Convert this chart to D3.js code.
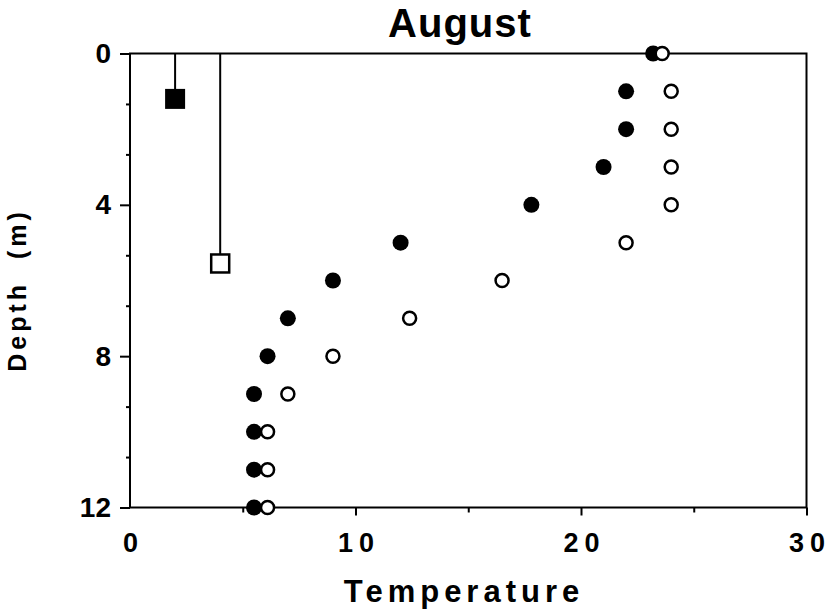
<!DOCTYPE html>
<html>
<head>
<meta charset="utf-8">
<script src="https://cdn.jsdelivr.net/npm/d3@7"></script>
<style>
  body { margin: 0; background: #fff; }
  text { font-family: Arial, "Liberation Sans", Helvetica, sans-serif; font-weight: bold; fill: #000; }
</style>
</head>
<body>
<div id="chart"></div>
<script>
const depths = [0, 1, 2, 3, 4, 5, 6, 7, 8, 9, 10, 11, 12]
const filledTemps = [23.2, 22, 22, 21, 17.8, 12, 9, 7, 6.1, 5.5, 5.5, 5.5, 5.5]
const openTemps = [23.6, 24, 24, 24, 24, 22, 16.5, 12.4, 9, 7, 6.1, 6.1, 6.1]
const squareTemps = [2, 4]
const squareDepths = [1.2, 5.55]
const squareFilled = [true, false]
const xTicks = [0, 10, 20, 30]
const xMinor = [5, 15, 25]
const yTicks = [0, 4, 8, 12]
const yMinor = [4 / 3, 8 / 3, 16 / 3, 20 / 3, 28 / 3, 32 / 3]

const width = 833
const height = 613

const svg = d3.select('#chart')
  .append('svg')
  .attr('width', width)
  .attr('height', height)

const x = d3.scaleLinear().domain([0, 30]).range([130, 806.5])
const y = d3.scaleLinear().domain([0, 12]).range([53.5, 507.5])

// frame
svg.append('rect')
  .attr('x', x(0)).attr('y', y(0))
  .attr('width', x(30) - x(0)).attr('height', y(12) - y(0))
  .attr('fill', 'none').attr('stroke', '#000').attr('stroke-width', 2)

// x axis
const xAxis = svg.append('g')
  .attr('transform', `translate(0,${y(12)})`)
  .call(d3.axisBottom(x).tickValues(xTicks).tickSize(8).tickPadding(17).tickFormat(d => d))
xAxis.select('.domain').remove()
xAxis.selectAll('line').attr('stroke-width', 2)
xAxis.selectAll('text').style('font-size', '27px').style('letter-spacing', '6px')
  .attr('dx', '3px')
xAxis.selectAll('.tick').filter(d => d === 0).select('line').remove()

const xAxisMinor = svg.append('g')
  .attr('transform', `translate(0,${y(12)})`)
  .call(d3.axisBottom(x).tickValues(xMinor).tickSize(5).tickFormat(''))
xAxisMinor.select('.domain').remove()
xAxisMinor.selectAll('line').attr('stroke-width', 2)

// y axis
const yAxis = svg.append('g')
  .attr('transform', `translate(${x(0)},0)`)
  .call(d3.axisLeft(y).tickValues(yTicks).tickSize(10).tickPadding(9))
yAxis.select('.domain').remove()
yAxis.selectAll('line').attr('stroke-width', 2)
yAxis.selectAll('text').style('font-size', '28px')

const yAxisMinor = svg.append('g')
  .attr('transform', `translate(${x(0)},0)`)
  .call(d3.axisLeft(y).tickValues(yMinor).tickSize(4).tickFormat(''))
yAxisMinor.select('.domain').remove()
yAxisMinor.selectAll('line').attr('stroke-width', 2)

// squares with drop lines from surface
const sq = squareTemps.map((t, i) => ({ t, d: squareDepths[i], filled: squareFilled[i] }))
svg.selectAll('.drop')
  .data(sq)
  .enter()
  .append('line')
  .attr('x1', d => x(d.t)).attr('x2', d => x(d.t))
  .attr('y1', y(0)).attr('y2', d => y(d.d))
  .attr('stroke', '#000').attr('stroke-width', 2)

svg.selectAll('.sq')
  .data(sq)
  .enter()
  .append('rect')
  .attr('x', d => x(d.t) - (d.filled ? 10 : 9))
  .attr('y', d => y(d.d) - (d.filled ? 10 : 9))
  .attr('width', d => d.filled ? 20 : 18)
  .attr('height', d => d.filled ? 20 : 18)
  .attr('fill', d => d.filled ? '#000' : '#fff')
  .attr('stroke', '#000')
  .attr('stroke-width', d => d.filled ? 0 : 2.5)

// filled circles
svg.selectAll('.filled')
  .data(depths.map((d, i) => ({ d, t: filledTemps[i] })))
  .enter()
  .append('circle')
  .attr('cx', d => x(d.t))
  .attr('cy', d => y(d.d))
  .attr('r', 8)
  .attr('fill', '#000')

// open circles
svg.selectAll('.open')
  .data(depths.map((d, i) => ({ d, t: openTemps[i] })))
  .enter()
  .append('circle')
  .attr('cx', d => x(d.t))
  .attr('cy', d => y(d.d))
  .attr('r', 6.5)
  .attr('fill', '#fff')
  .attr('stroke', '#000')
  .attr('stroke-width', 2.5)

// title
svg.append('text')
  .attr('x', 460).attr('y', 37)
  .attr('text-anchor', 'middle')
  .style('font-size', '40px')
  .style('letter-spacing', '1px')
  .text('August')

// axis titles
svg.append('text')
  .attr('x', 464).attr('y', 602)
  .attr('text-anchor', 'middle')
  .style('font-size', '31px')
  .style('letter-spacing', '5px')
  .text('Temperature')

svg.append('text')
  .attr('transform', 'translate(26,290) rotate(-90)')
  .attr('text-anchor', 'middle')
  .attr('xml:space', 'preserve')
  .style('font-size', '25px')
  .style('letter-spacing', '4px')
  .style('white-space', 'pre')
  .text('Depth  (m)')
</script>
</body>
</html>
